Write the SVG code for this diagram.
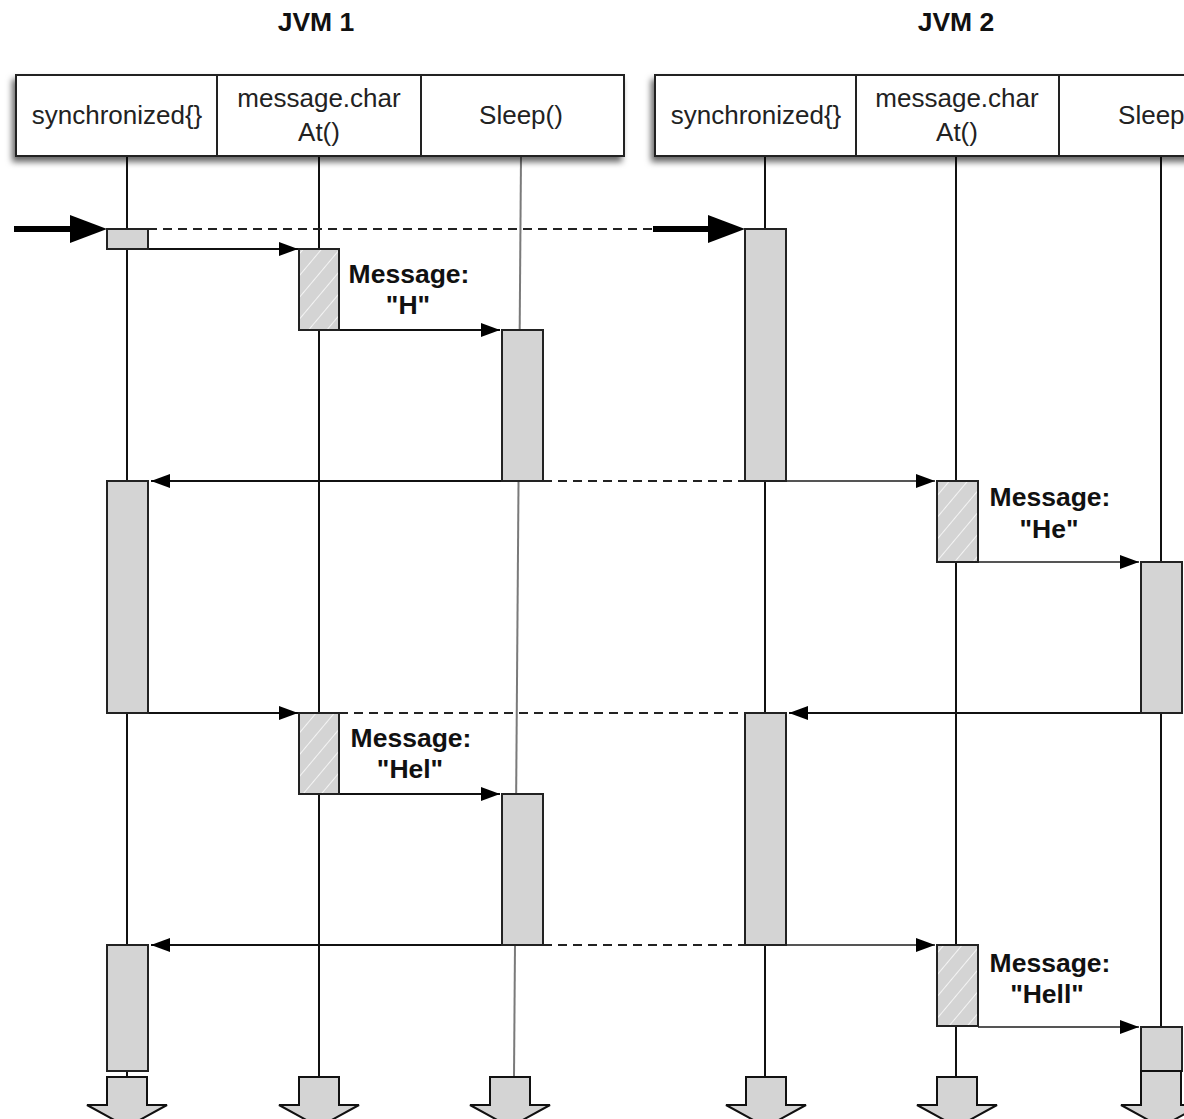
<svg xmlns="http://www.w3.org/2000/svg" width="1184" height="1119" viewBox="0 0 1184 1119">
  <style>
    .title { font-family: "Liberation Sans", Arial, sans-serif; font-weight: bold; font-size: 26.5px; fill: #111; text-anchor: middle; }
    .hdr { font-family: "Liberation Sans", Arial, sans-serif; font-size: 26px; fill: #222; text-anchor: middle; }
    .msg { font-family: "Liberation Sans", Arial, sans-serif; font-weight: bold; font-size: 26.5px; fill: #111; text-anchor: middle; }
    .hbox { fill: #fff; stroke: #222; stroke-width: 2; }
    .div { stroke: #222; stroke-width: 2; }
    .life { stroke: #111; stroke-width: 2; fill: none; }
    .life-gray { stroke: #7a7a7a; stroke-width: 2; fill: none; }
    .act { fill: #d4d4d4; stroke: #222; stroke-width: 2; }
    .hatch { fill: url(#hatch); stroke: #222; stroke-width: 2; }
    .msgline { stroke: #111; stroke-width: 2; fill: none; marker-end: url(#head); }
    .msgline-soft { stroke: #555; stroke-width: 2; fill: none; marker-end: url(#head); }
    .dash { stroke: #222; stroke-width: 2; stroke-dasharray: 9 6; fill: none; }
    .entry { stroke: #000; stroke-width: 6; fill: none; }
    .cont { fill: #d4d4d4; stroke: #111; stroke-width: 2; stroke-linejoin: miter; }
  </style>
  <defs>
    <filter id="shadow" x="-5%" y="-20%" width="110%" height="150%">
      <feDropShadow dx="-3" dy="5" stdDeviation="3" flood-color="#000" flood-opacity="0.6"/>
    </filter>
    <pattern id="hatch" patternUnits="userSpaceOnUse" width="14" height="14" patternTransform="rotate(40)">
      <rect width="14" height="14" fill="#d4d4d4"/>
      <line x1="0" y1="0" x2="0" y2="14" stroke="#f4f4f4" stroke-width="2"/>
    </pattern>
    <marker id="head" markerUnits="userSpaceOnUse" markerWidth="19" markerHeight="14" refX="19" refY="7" orient="auto">
      <path d="M0,0 L19,7 L0,14 z" fill="#000"/>
    </marker>
  </defs>

  <rect width="1184" height="1119" fill="#fff"/>

  <!-- Column titles -->
  <text class="title" x="316" y="31">JVM 1</text>
  <text class="title" x="956" y="31">JVM 2</text>

  <!-- Lifelines -->
  <g id="lifelines">
    <line class="life" x1="127" y1="156" x2="127" y2="1077"/>
    <line class="life" x1="319" y1="156" x2="319" y2="1077"/>
    <line class="life-gray" x1="521" y1="156" x2="514" y2="1077"/>
    <line class="life" x1="765" y1="156" x2="765" y2="1077"/>
    <line class="life" x1="956" y1="156" x2="956" y2="1077"/>
    <line class="life" x1="1161" y1="156" x2="1161" y2="1071"/>
  </g>

  <!-- Header boxes -->
  <g id="jvm1-header">
    <rect class="hbox" x="16" y="75" width="608" height="81" filter="url(#shadow)"/>
    <line class="div" x1="217" y1="75" x2="217" y2="156"/>
    <line class="div" x1="421" y1="75" x2="421" y2="156"/>
    <text class="hdr" x="117" y="124">synchronized{}</text>
    <text class="hdr" x="319" y="107">message.char</text>
    <text class="hdr" x="319" y="141">At()</text>
    <text class="hdr" x="521" y="124">Sleep()</text>
  </g>
  <g id="jvm2-header">
    <rect class="hbox" x="655" y="75" width="560" height="81" filter="url(#shadow)"/>
    <line class="div" x1="856" y1="75" x2="856" y2="156"/>
    <line class="div" x1="1059" y1="75" x2="1059" y2="156"/>
    <text class="hdr" x="756" y="124">synchronized{}</text>
    <text class="hdr" x="957" y="107">message.char</text>
    <text class="hdr" x="957" y="141">At()</text>
    <text class="hdr" x="1160" y="124">Sleep()</text>
  </g>

  <!-- Connectors -->
  <g id="connectors">
    <!-- entry arrows -->
    <line class="entry" x1="14" y1="229" x2="74" y2="229"/>
    <polygon points="70,215 107,229 70,243" fill="#000"/>
    <line class="entry" x1="653" y1="229" x2="712" y2="229"/>
    <polygon points="708,215 745,229 708,243" fill="#000"/>
    <line class="dash" x1="148" y1="229" x2="652" y2="229"/>

    <line class="msgline" x1="148" y1="249" x2="298" y2="249"/>
    <line class="msgline" x1="339" y1="330" x2="500" y2="330"/>

    <line class="msgline" x1="502" y1="481" x2="151" y2="481"/>
    <line class="dash" x1="543" y1="481" x2="745" y2="481"/>
    <line class="msgline-soft" x1="786" y1="481" x2="935" y2="481"/>
    <line class="msgline-soft" x1="978" y1="562" x2="1139" y2="562"/>

    <line class="msgline" x1="148" y1="713" x2="298" y2="713"/>
    <line class="dash" x1="339" y1="713" x2="745" y2="713"/>
    <line class="msgline" x1="1141" y1="713" x2="789" y2="713"/>
    <line class="msgline" x1="339" y1="794" x2="500" y2="794"/>

    <line class="msgline" x1="502" y1="945" x2="151" y2="945"/>
    <line class="dash" x1="543" y1="945" x2="745" y2="945"/>
    <line class="msgline-soft" x1="786" y1="945" x2="935" y2="945"/>
    <line class="msgline-soft" x1="978" y1="1027" x2="1139" y2="1027"/>
  </g>

  <!-- Activations, JVM 1 -->
  <g id="jvm1-sync">
    <rect class="act" x="107" y="229" width="41" height="20"/>
    <rect class="act" x="107" y="481" width="41" height="232"/>
    <rect class="act" x="107" y="945" width="41" height="126"/>
  </g>
  <g id="jvm1-charat">
    <rect class="hatch" x="299" y="249" width="40" height="81"/>
    <rect class="hatch" x="299" y="713" width="40" height="81"/>
  </g>
  <g id="jvm1-sleep">
    <rect class="act" x="502" y="330" width="41" height="151"/>
    <rect class="act" x="502" y="794" width="41" height="151"/>
  </g>

  <!-- Activations, JVM 2 -->
  <g id="jvm2-sync">
    <rect class="act" x="745" y="229" width="41" height="252"/>
    <rect class="act" x="745" y="713" width="41" height="232"/>
  </g>
  <g id="jvm2-charat">
    <rect class="hatch" x="937" y="481" width="41" height="81"/>
    <rect class="hatch" x="937" y="945" width="41" height="81"/>
  </g>
  <g id="jvm2-sleep">
    <rect class="act" x="1141" y="562" width="41" height="151"/>
    <rect class="act" x="1141" y="1027" width="41" height="44"/>
  </g>

  <!-- Message labels -->
  <g id="labels">
    <text class="msg" x="409" y="283">Message:</text>
    <text class="msg" x="408" y="314">"H"</text>
    <text class="msg" x="1050" y="506">Message:</text>
    <text class="msg" x="1049" y="538">"He"</text>
    <text class="msg" x="411" y="747">Message:</text>
    <text class="msg" x="410" y="778">"Hel"</text>
    <text class="msg" x="1050" y="972">Message:</text>
    <text class="msg" x="1047" y="1003">"Hell"</text>
  </g>

  <!-- Continuation arrows at the foot of each lifeline -->
  <g id="continuations">
    <polygon class="cont" points="107,1077 147,1077 147,1105 167,1105 127,1127 87,1105 107,1105"/>
    <polygon class="cont" points="299,1077 339,1077 339,1105 359,1105 319,1127 279,1105 299,1105"/>
    <polygon class="cont" points="490,1077 530,1077 530,1105 550,1105 510,1127 470,1105 490,1105"/>
    <polygon class="cont" points="746,1077 786,1077 786,1105 806,1105 766,1127 726,1105 746,1105"/>
    <polygon class="cont" points="937,1077 977,1077 977,1105 997,1105 957,1127 917,1105 937,1105"/>
    <polygon class="cont" points="1141,1071 1181,1071 1181,1105 1201,1105 1161,1127 1121,1105 1141,1105"/>
  </g>
</svg>
